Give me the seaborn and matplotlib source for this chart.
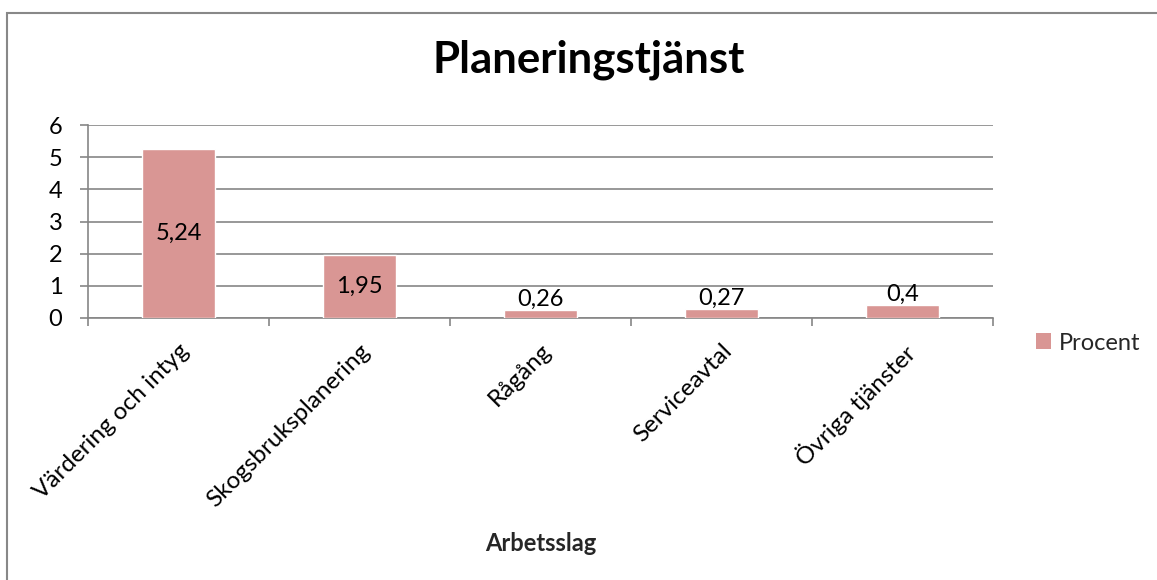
import matplotlib
matplotlib.use("Agg")
import matplotlib.pyplot as plt
import seaborn as sns
import pandas as pd
from matplotlib.patches import Rectangle, Patch

categories = ["Värdering och intyg", "Skogsbruksplanering", "Rågång", "Serviceavtal", "Övriga tjänster"]
values = [5.24, 1.95, 0.26, 0.27, 0.4]
value_labels = ["5,24", "1,95", "0,26", "0,27", "0,4"]
series_name = "Procent"
yticks = [0, 1, 2, 3, 4, 5, 6]

sns.set_theme(style="white")
plt.rcParams['font.family'] = ['Lato', 'DejaVu Sans']

bar_color = "#D99694"
grid_color = "#868686"
fs = 17

df = pd.DataFrame({"Arbetsslag": categories, "Procent": values})

fig = plt.figure(figsize=(11.57, 5.8), dpi=100)
ax = fig.add_axes([88/1157, 262/580, 905/1157, 193/580])

sns.barplot(data=df, x="Arbetsslag", y="Procent", color=bar_color, width=0.4,
            saturation=1, ax=ax, zorder=3)

ax.set_xlim(-0.5, len(categories) - 0.5)
ax.set_ylim(0, 6)
ax.set_yticks(yticks)
ax.set_yticklabels([str(t) for t in yticks], fontsize=fs)
ax.yaxis.grid(True, color=grid_color, linewidth=1.2, zorder=0)
ax.xaxis.grid(False)

for s in ["top", "right"]:
    ax.spines[s].set_visible(False)
ax.spines["left"].set_color(grid_color)
ax.spines["bottom"].set_color(grid_color)
ax.spines["left"].set_linewidth(1.2)
ax.spines["bottom"].set_linewidth(1.2)

ax.tick_params(axis="y", left=True, length=6, color=grid_color, width=1.2, pad=12.5, labelcolor="black")
# category ticks at boundaries
ax.set_xticks([i + 0.5 for i in range(-1, len(categories))], minor=True)
ax.tick_params(axis="x", which="minor", bottom=True, length=5.5, color=grid_color, width=1.2)
ax.set_xticks(range(len(categories)))
ax.set_xticklabels(categories, rotation=45, ha="right", rotation_mode="anchor", fontsize=17.5)
ax.tick_params(axis="x", which="major", bottom=False, pad=10, labelcolor="black")

ax.set_ylabel("")
ax.set_xlabel("Arbetsslag", fontsize=fs, fontweight="bold", va="top")
ax.xaxis.set_label_coords(0.5, -(532 - 318) / 193)

cont = ax.containers[0]
inside = [lbl if v > 1 else "" for v, lbl in zip(values, value_labels)]
outside = [lbl if v <= 1 else "" for v, lbl in zip(values, value_labels)]
ax.bar_label(cont, labels=inside, label_type="center", fontsize=fs, color="black")
ax.bar_label(cont, labels=outside, label_type="edge", padding=0, fontsize=fs, color="black")

fig.text(589/1157, 1 - 73/580, "Planeringstjänst", ha="center", va="baseline",
         fontsize=31.5, fontweight="bold", color="black")

handles = [Patch(facecolor=bar_color, edgecolor="none", label=series_name)]
fig.legend(handles=handles, loc="center left", bbox_to_anchor=(1036/1157, 1 - 343/580),
           frameon=False, fontsize=fs, handlelength=0.65, handleheight=0.65, handletextpad=0.3,
           borderaxespad=0, borderpad=0)

fig.patches.append(Rectangle((7/1157, -0.1), 1.2, (580 - 13)/580 + 0.1, transform=fig.transFigure,
                             fill=False, edgecolor="#888888", linewidth=1.5, figure=fig))

fig.savefig("out.png", dpi=100)
